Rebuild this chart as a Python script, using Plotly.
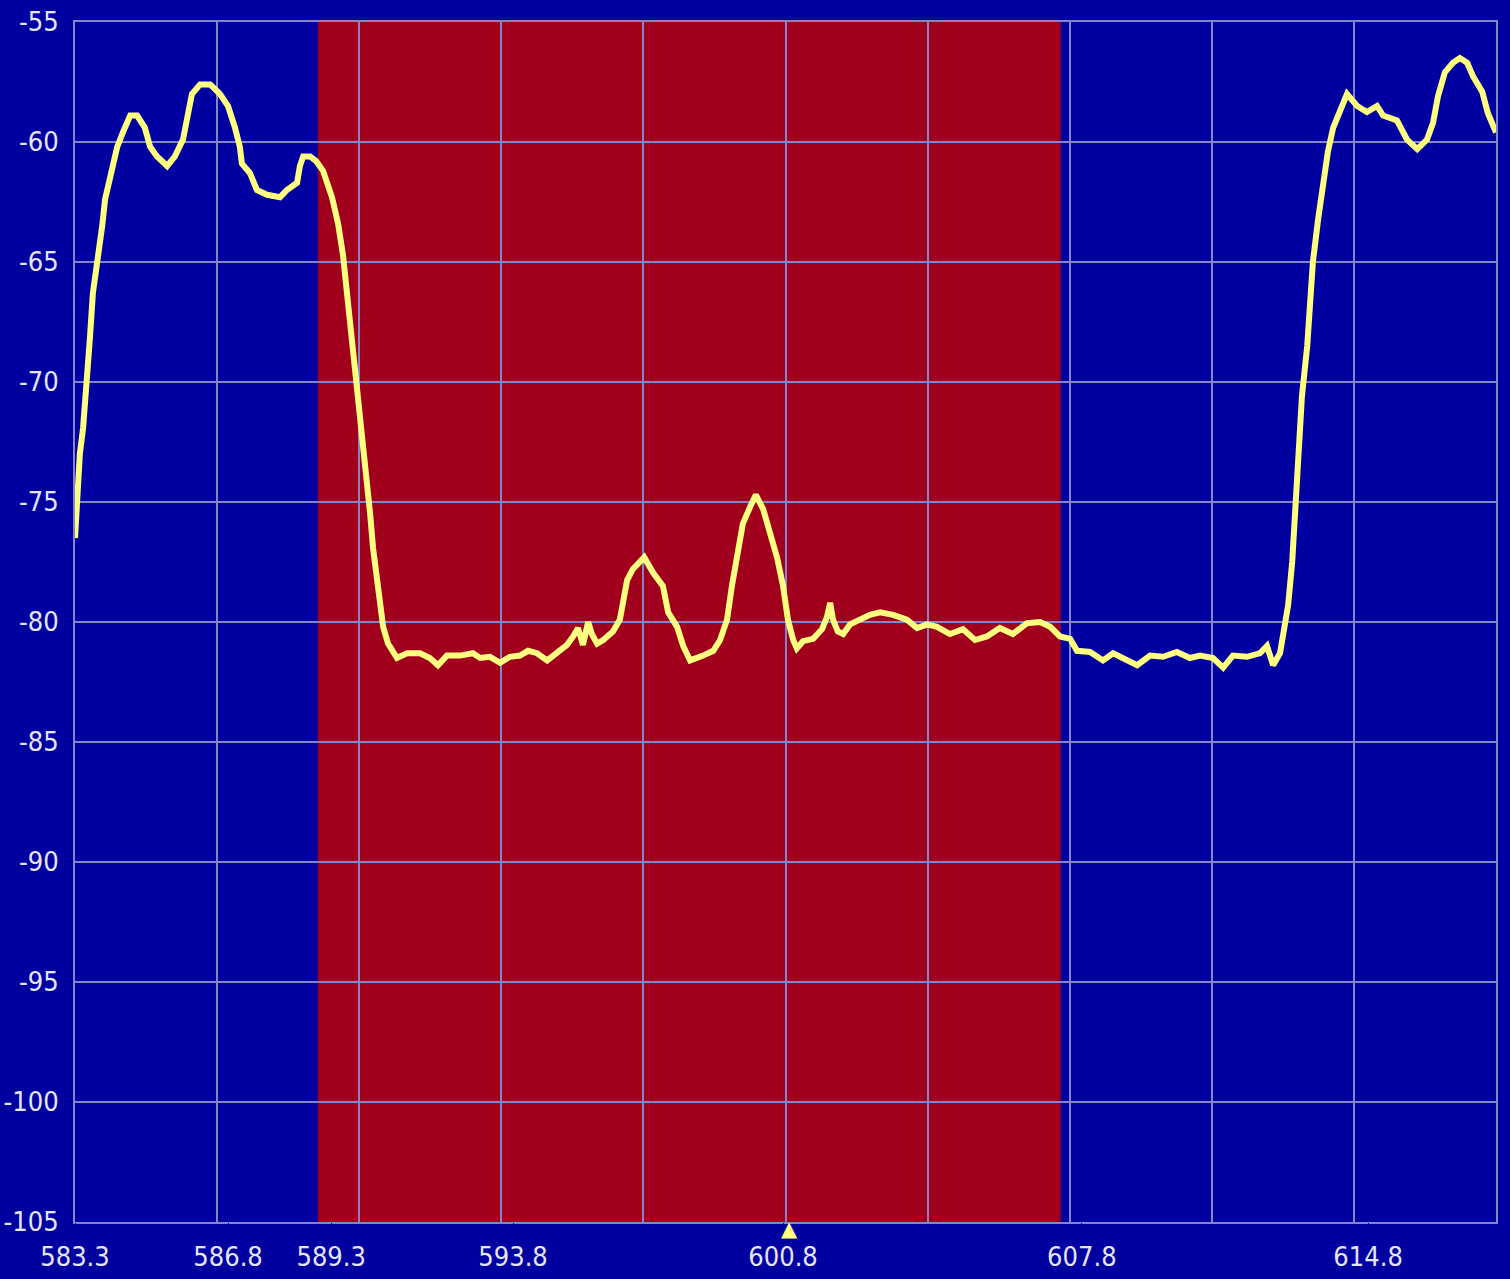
import plotly.graph_objects as go

# ---- data ----
freq_mhz = [583.30, 583.35, 583.42, 583.50, 583.60, 583.67, 583.74, 583.87, 583.97, 584.04,
            584.16, 584.34, 584.48, 584.66, 584.83, 585.02, 585.15, 585.32, 585.57, 585.76,
            585.96, 586.08, 586.18, 586.38, 586.63, 586.87, 587.07, 587.24, 587.36, 587.41,
            587.61, 587.78, 588.03, 588.35, 588.52, 588.77, 588.84, 588.92, 589.09, 589.24,
            589.41, 589.63, 589.78, 589.90, 590.02, 590.15, 590.27, 590.39, 590.49, 590.57,
            590.64, 590.76, 590.89, 591.01, 591.11, 591.23, 591.48, 591.80, 592.04, 592.24,
            592.46, 592.78, 593.10, 593.28, 593.52, 593.77, 594.01, 594.26, 594.46, 594.68,
            594.93, 595.17, 595.42, 595.57, 595.69, 595.81, 595.94, 596.03, 596.16, 596.31,
            596.55, 596.72, 596.80, 596.90, 597.04, 597.32, 597.54, 597.78, 597.91, 598.13,
            598.28, 598.45, 598.77, 599.02, 599.19, 599.36, 599.48, 599.61, 599.75, 599.93,
            600.07, 600.25, 600.42, 600.59, 600.74, 600.86, 600.99, 601.08, 601.23, 601.48,
            601.70, 601.82, 601.90, 601.97, 602.09, 602.22, 602.39, 602.64, 602.88, 603.13,
            603.45, 603.79, 604.04, 604.29, 604.53, 604.85, 605.17, 605.47, 605.76, 606.08,
            606.40, 606.75, 607.07, 607.32, 607.56, 607.81, 607.98, 608.30, 608.62, 608.87,
            609.11, 609.46, 609.78, 610.10, 610.44, 610.76, 611.01, 611.33, 611.58, 611.82,
            612.17, 612.49, 612.66, 612.81, 612.98, 613.10, 613.18, 613.28, 613.35, 613.42,
            613.52, 613.65, 613.72, 613.79, 613.92, 614.04, 614.16, 614.29, 614.46, 614.63,
            614.88, 615.12, 615.37, 615.52, 615.86, 616.11, 616.36, 616.60, 616.75, 616.87,
            617.04, 617.24, 617.41, 617.59, 617.73, 617.96, 618.10, 618.30]

level_db = [-76.5, -75.0, -73.0, -71.9, -70.0, -68.1, -66.3, -64.9, -63.5, -62.4,
            -61.6, -60.2, -59.6, -58.9, -58.9, -59.4, -60.2, -60.6, -61.0, -60.6,
            -59.9, -58.8, -58.0, -57.6, -57.6, -58.0, -58.5, -59.4, -60.2, -60.9,
            -61.3, -62.0, -62.2, -62.3, -62.0, -61.7, -61.0, -60.6, -60.6, -60.8,
            -61.2, -62.3, -63.4, -64.7, -66.6, -68.5, -70.2, -72.1, -74.0, -75.5,
            -76.9, -78.7, -80.2, -80.9, -81.2, -81.5, -81.3, -81.3, -81.5, -81.8,
            -81.4, -81.4, -81.3, -81.5, -81.45, -81.7, -81.45, -81.4, -81.2, -81.3,
            -81.6, -81.25, -80.95, -80.6, -80.25, -80.95, -80.0, -80.5, -80.9, -80.75,
            -80.4, -79.9, -79.1, -78.25, -77.8, -77.3, -77.95, -78.5, -79.6, -80.2,
            -81.0, -81.6, -81.4, -81.2, -80.75, -79.9, -78.5, -77.1, -75.9, -75.2,
            -74.7, -75.3, -76.2, -77.3, -78.5, -79.9, -80.75, -81.1, -80.8, -80.7,
            -80.3, -79.8, -79.2, -79.9, -80.4, -80.5, -80.1, -79.9, -79.7, -79.6,
            -79.7, -79.9, -80.25, -80.1, -80.2, -80.5, -80.3, -80.75, -80.6, -80.25,
            -80.5, -80.05, -80.0, -80.2, -80.6, -80.7, -81.2, -81.25, -81.6, -81.3,
            -81.5, -81.8, -81.4, -81.45, -81.25, -81.5, -81.4, -81.5, -81.9, -81.4,
            -81.45, -81.3, -81.0, -81.8, -81.3, -80.25, -79.3, -77.5, -75.2, -72.9,
            -70.6, -68.5, -66.55, -65.0, -63.2, -61.7, -60.4, -59.4, -58.7, -58.0,
            -58.5, -58.75, -58.5, -58.9, -59.1, -59.9, -60.3, -59.9, -59.2, -58.1,
            -57.1, -56.7, -56.5, -56.7, -57.25, -57.9, -58.8, -59.6]

channel_band = [589.28, 607.58]          # highlighted channel (MHz)
marker_freq = 600.9                       # centre marker
marker_symbol = "\u25B2"

x_range = [583.3, 618.3]
x_step = 3.5
y_range = [-105, -55]
y_ticks = [-105, -100, -95, -90, -85, -80, -75, -70, -65, -60, -55]
y_labels = ["-105", "-100", "-95", "-90", "-85", "-80", "-75", "-70", "-65", "-60", "-55"]

label_positions = [583.3, 587.07, 589.61, 594.09, 600.74, 608.10, 615.15, 618.62]
label_texts = ["583.3", "586.8", "589.3", "593.8", "600.8", "607.8", "614.8", "618.3"]

# ---- styles ----
BG = "#0000A0"
RED = "#A0001C"
GRID = "#8484CC"
LINE = "#FFFF80"
TXT = "#E6E6FA"
FONT = "DejaVu Sans Condensed, Liberation Sans Narrow, Arial Narrow, sans-serif"
FS = 27

fig = go.Figure()

fig.add_trace(go.Scatter(
    x=freq_mhz, y=level_db, mode="lines",
    line=dict(color=LINE, width=6),
    hoverinfo="x+y", showlegend=False,
))

# invisible helper trace so the label axis is drawn
fig.add_trace(go.Scatter(
    x=x_range, y=y_range, xaxis="x2", mode="markers",
    marker=dict(opacity=0), showlegend=False, hoverinfo="skip",
))

fig.add_shape(
    type="rect", xref="x", yref="paper",
    x0=channel_band[0], x1=channel_band[1], y0=0, y1=1,
    fillcolor=RED, line=dict(width=0), layer="below",
)

fig.add_annotation(
    x=marker_freq, y=y_range[0], xref="x", yref="y",
    text=marker_symbol, showarrow=False, yanchor="top", xanchor="center",
    font=dict(family="DejaVu Sans", size=21, color=LINE), yshift=7,
)

fig.update_layout(
    width=1510, height=1279,
    margin=dict(l=75, r=14, t=22, b=57, autoexpand=False),
    paper_bgcolor=BG, plot_bgcolor=BG,
    font=dict(family=FONT, color=TXT, size=FS),
    xaxis=dict(
        range=x_range, tick0=x_range[0], dtick=x_step,
        showgrid=True, gridcolor=GRID, gridwidth=2,
        showticklabels=False, ticks="", zeroline=False,
        showline=True, linecolor=GRID, linewidth=2, mirror=True,
        automargin=False,
    ),
    xaxis2=dict(
        range=x_range, overlaying="x", anchor="y", side="bottom",
        tickmode="array", tickvals=label_positions, ticktext=label_texts,
        showgrid=False, zeroline=False, showline=False,
        ticks="outside", ticklen=11, tickcolor=BG,
        tickfont=dict(family=FONT, color=TXT, size=FS),
        automargin=False,
    ),
    yaxis=dict(
        range=y_range, tickmode="array", tickvals=y_ticks, ticktext=y_labels,
        showgrid=True, gridcolor=GRID, gridwidth=2,
        zeroline=False, showline=True, linecolor=GRID, linewidth=2, mirror=True,
        ticks="outside", ticklen=9, tickcolor=BG,
        tickfont=dict(family=FONT, color=TXT, size=FS),
        automargin=False,
    ),
)

fig.write_html(
    "out.html",
    config={"displayModeBar": False},
    post_script="document.body.style.margin='0';document.body.style.background='#0000A0';",
)
